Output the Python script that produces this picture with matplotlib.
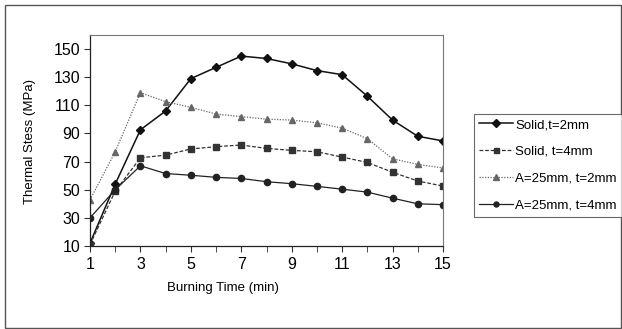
import numpy as np
import matplotlib.pyplot as plt
from matplotlib.patches import Rectangle

plt.rcParams["font.family"] = ["Liberation Sans", "DejaVu Sans"]

# burning time (min)
time = np.arange(1, 16)

# thermal stress (MPa)
solid_t2 = [12, 54, 92.6, 106, 129, 137, 145, 143.3, 139.5, 134.7, 131.8, 116.5, 99.5, 88, 84.7]
solid_t4 = [11, 49, 72.7, 74.6, 79, 80.6, 81.8, 79.4, 78, 77, 73.2, 69.4, 62.4, 56.2, 52.6]
a25_t2 = [42.8, 77, 119, 112.6, 108.6, 103.8, 102, 100.2, 99.5, 97.6, 93.8, 86.3, 72, 68, 65.5]
a25_t4 = [30, 50, 67, 61.5, 60.3, 58.8, 58, 55.7, 54.3, 52.4, 50.4, 48.3, 44, 40, 39.4]

labels = ["Solid,t=2mm", "Solid, t=4mm", "A=25mm, t=2mm", "A=25mm, t=4mm"]

fig = plt.figure(figsize=(6.22, 3.29), dpi=100)
ax = fig.add_axes([90 / 622, 1 - 246 / 329, 353 / 622, 211 / 329])

ax.plot(time, solid_t2, color="#111111", ls="-", lw=1.1, marker="D", ms=4.5, label=labels[0])
ax.plot(time, solid_t4, color="#333333", ls=(0, (3, 1.5)), lw=0.9, marker="s", ms=4.5, label=labels[1])
ax.plot(time, a25_t2, color="#666666", ls=(0, (1, 1.2)), lw=0.9, marker="^", ms=5, label=labels[2])
ax.plot(time, a25_t4, color="#222222", ls="-", lw=0.9, marker="o", ms=4.5, label=labels[3])

ax.set_xlim(1, 15)
ax.set_ylim(10, 160)
ax.set_xticks(np.arange(1, 16, 2))
ax.set_xticks(np.arange(1, 16), minor=True)
ax.set_yticks(np.arange(10, 151, 20))
ax.tick_params(axis="both", which="both", direction="out", labelsize=11.5, color="#333333")
ax.tick_params(axis="x", which="major", length=4, pad=4)
ax.tick_params(axis="x", which="minor", length=4)
ax.tick_params(axis="y", length=4, pad=3)

for side in ["top", "right"]:
    ax.spines[side].set_color("#777777")
    ax.spines[side].set_linewidth(0.8)
for side in ["left", "bottom"]:
    ax.spines[side].set_color("#222222")
    ax.spines[side].set_linewidth(0.9)

fig.text(30 / 622, 1 - 141 / 329, "Thermal Stess (MPa)", rotation=90,
         ha="center", va="center", fontsize=9.5)
fig.text(223 / 622, 1 - 288 / 329, "Burning Time (min)", ha="center", va="center", fontsize=9.5)

leg = fig.legend(loc="upper left", bbox_to_anchor=(467 / 622, 1 - 107 / 329), fontsize=9.5,
                 frameon=True, fancybox=False, edgecolor="#444444", borderpad=0.4,
                 labelspacing=1.1, handlelength=2.6, handletextpad=0.15, markerscale=0.8)
leg.get_frame().set_linewidth(0.8)

# outer chart border
fig.patches.append(Rectangle((5 / 622, 1 / 329), 616 / 622, 323 / 329, transform=fig.transFigure,
                             fill=False, edgecolor="#555555", lw=1.0))

fig.savefig("out.png", dpi=100)
